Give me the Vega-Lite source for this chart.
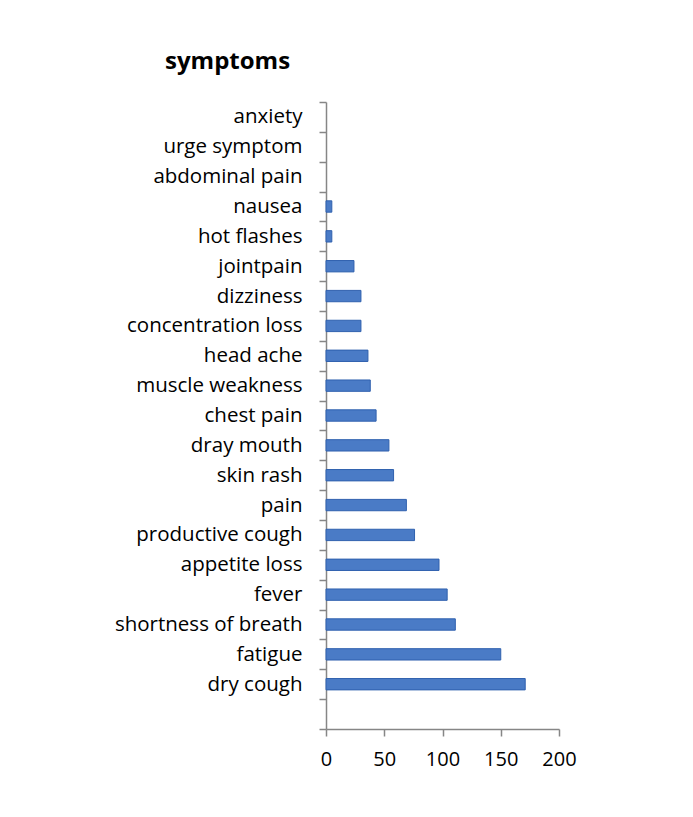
{
  "$schema": "https://vega.github.io/schema/vega-lite/v6.json",
  "autosize": "none",
  "width": 233,
  "height": 627,
  "padding": {"left": 326, "top": 102, "right": 134, "bottom": 88},
  "background": "white",
  "title": {
    "text": "symptoms",
    "anchor": "start",
    "frame": "group",
    "dx": -161,
    "offset": 18,
    "font": "Open Sans",
    "fontSize": 24,
    "fontWeight": "bold",
    "color": "#000000"
  },
  "data": {
    "values": [
      {"symptom": "anxiety", "count": 0},
      {"symptom": "urge symptom", "count": 0},
      {"symptom": "abdominal pain", "count": 0},
      {"symptom": "nausea", "count": 5},
      {"symptom": "hot flashes", "count": 5},
      {"symptom": "jointpain", "count": 24},
      {"symptom": "dizziness", "count": 30},
      {"symptom": "concentration loss", "count": 30},
      {"symptom": "head ache", "count": 36},
      {"symptom": "muscle weakness", "count": 38},
      {"symptom": "chest pain", "count": 43},
      {"symptom": "dray mouth", "count": 54},
      {"symptom": "skin rash", "count": 58},
      {"symptom": "pain", "count": 69},
      {"symptom": "productive cough", "count": 76},
      {"symptom": "appetite loss", "count": 97},
      {"symptom": "fever", "count": 104},
      {"symptom": "shortness of breath", "count": 111},
      {"symptom": "fatigue", "count": 150},
      {"symptom": "dry cough", "count": 171}
    ]
  },
  "transform": [{"filter": "datum.count > 0"}],
  "mark": {"type": "bar", "color": "#4a7bc6", "stroke": "#2f60ae", "strokeWidth": 1, "height": {"band": 0.38}},
  "encoding": {
    "y": {
      "field": "symptom",
      "type": "nominal",
      "scale": {
        "domain": ["anxiety", "urge symptom", "abdominal pain", "nausea", "hot flashes", "jointpain", "dizziness", "concentration loss", "head ache", "muscle weakness", "chest pain", "dray mouth", "skin rash", "pain", "productive cough", "appetite loss", "fever", "shortness of breath", "fatigue", "dry cough", " "],
        "paddingInner": 0,
        "paddingOuter": 0
      },
      "axis": {
        "title": null,
        "tickBand": "extent",
        "domainColor": "#868686",
        "domainWidth": 1.5,
        "tickColor": "#868686",
        "tickWidth": 1.5,
        "tickSize": 7,
        "labelPadding": 17,
        "labelLimit": 400,
        "labelFont": "Open Sans",
        "labelFontSize": 20.5,
        "labelColor": "#000000"
      }
    },
    "x": {
      "field": "count",
      "type": "quantitative",
      "scale": {"domain": [0, 200], "nice": false},
      "axis": {
        "title": null,
        "values": [0, 50, 100, 150, 200],
        "grid": false,
        "domainColor": "#868686",
        "domainWidth": 1.5,
        "tickColor": "#868686",
        "tickWidth": 1.5,
        "tickSize": 7,
        "labelPadding": 13,
        "labelFont": "Open Sans",
        "labelFontSize": 20,
        "labelColor": "#000000",
        "labelFlush": false
      }
    }
  },
  "config": {"view": {"stroke": null}}
}
